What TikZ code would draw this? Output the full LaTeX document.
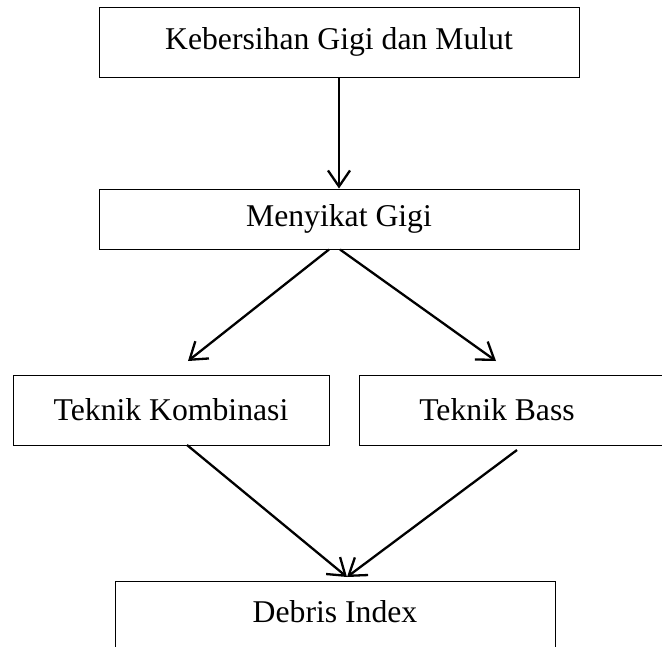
\documentclass[tikz,border=0pt]{standalone}
\usepackage{fontspec}
\setmainfont{Liberation Serif}
\usetikzlibrary{arrows.meta}
\tikzset{
  box/.style={draw=black, line width=1pt, rectangle, inner sep=0pt},
  lbl/.style={font=\fontsize{31.7}{36}\selectfont, inner sep=0pt},
  conn/.style={draw=black, line width=2.3pt, -{Straight Barb[length=16pt,width=22pt,line width=2.3pt]}}
}
\begin{document}
\begin{tikzpicture}[x=1pt,y=-1pt]
\useasboundingbox (0,0) rectangle (662,646);
\clip (0,0) rectangle (662,646);
% boxes
\node[box, lbl, minimum width=480, minimum height=70] (kebersihan) at (339,42) {Kebersihan Gigi dan Mulut};
\node[box, lbl, minimum width=480, minimum height=60] (menyikat) at (339,219) {Menyikat Gigi};
\node[box, lbl, minimum width=316, minimum height=70] (kombinasi) at (171,410) {Teknik Kombinasi};
\node[box, minimum width=340, minimum height=70] (bass) at (529,410) {};
\node[lbl] (basstext) at (497,410) {Teknik Bass};
\node[box, minimum width=440, minimum height=100] (debris) at (335,631) {};
\node[lbl] (debristext) at (335,612) {Debris Index};
% connector ends
\coordinate (m1) at ([xshift=-10pt]menyikat.south);
\coordinate (m2) at ([xshift=1pt]menyikat.south);
\coordinate (t1) at (188,361);
\coordinate (t2) at (496,361);
\coordinate (k1) at (187,445);
\coordinate (b1) at (517,450);
\coordinate (d1) at (347,577);
% connectors
\draw[conn] (kebersihan.south) -- (menyikat.north);
\draw[conn] (m1) -- (t1);
\draw[conn] (m2) -- (t2);
\draw[conn] (k1) -- (d1);
\draw[conn] (b1) -- (d1);
\end{tikzpicture}
\end{document}
